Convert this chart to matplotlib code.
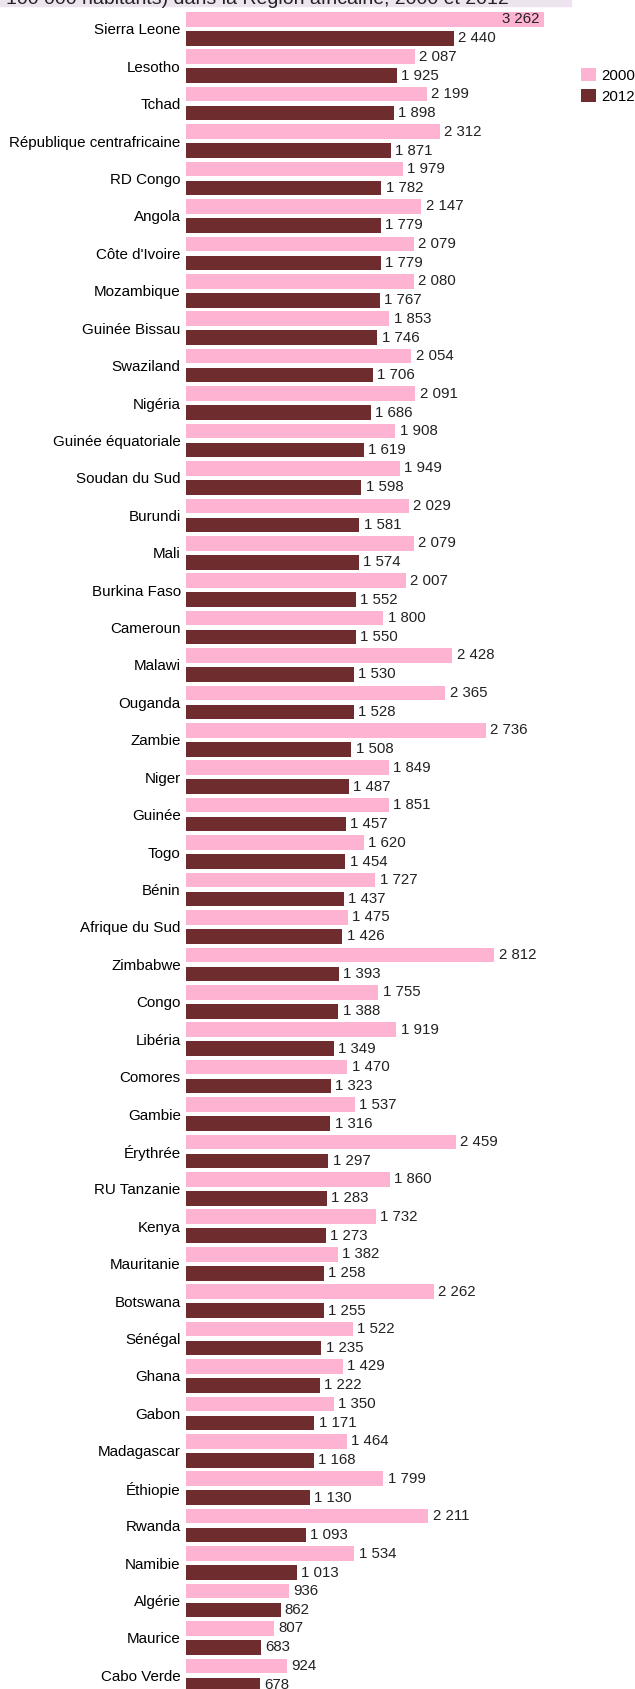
import matplotlib
matplotlib.use("Agg")
import matplotlib.pyplot as plt
from matplotlib.patches import Rectangle
import numpy as np

plt.rcParams['font.family'] = ['Liberation Sans', 'DejaVu Sans']

countries = ["Sierra Leone", "Lesotho", "Tchad", "République centrafricaine", "RD Congo",
             "Angola", "Côte d'Ivoire", "Mozambique", "Guinée Bissau", "Swaziland",
             "Nigéria", "Guinée équatoriale", "Soudan du Sud", "Burundi", "Mali",
             "Burkina Faso", "Cameroun", "Malawi", "Ouganda", "Zambie",
             "Niger", "Guinée", "Togo", "Bénin", "Afrique du Sud",
             "Zimbabwe", "Congo", "Libéria", "Comores", "Gambie",
             "Érythrée", "RU Tanzanie", "Kenya", "Mauritanie", "Botswana",
             "Sénégal", "Ghana", "Gabon", "Madagascar", "Éthiopie",
             "Rwanda", "Namibie", "Algérie", "Maurice", "Cabo Verde"]
v2000 = [3262, 2087, 2199, 2312, 1979, 2147, 2079, 2080, 1853, 2054,
         2091, 1908, 1949, 2029, 2079, 2007, 1800, 2428, 2365, 2736,
         1849, 1851, 1620, 1727, 1475, 2812, 1755, 1919, 1470, 1537,
         2459, 1860, 1732, 1382, 2262, 1522, 1429, 1350, 1464, 1799,
         2211, 1534, 936, 807, 924]
v2012 = [2440, 1925, 1898, 1871, 1782, 1779, 1779, 1767, 1746, 1706,
         1686, 1619, 1598, 1581, 1574, 1552, 1550, 1530, 1528, 1508,
         1487, 1457, 1454, 1437, 1426, 1393, 1388, 1349, 1323, 1316,
         1297, 1283, 1273, 1258, 1255, 1235, 1222, 1171, 1168, 1130,
         1093, 1013, 862, 683, 678]
years = ["2000", "2012"]
title_tail = "100 000 habitants) dans la Région africaine, 2000 et 2012"

pink = "#ffb3d2"
maroon = "#6e2c2e"

W, H = 635, 1689
fig = plt.figure(figsize=(W / 100, H / 100), dpi=100)

# pixel layout
pitch = 37.42
c0 = 28.85
ytop, ybot = -0.55, 44.55
top_px = c0 + ytop * pitch
bot_px = c0 + ybot * pitch
left_px = 186
xmax = 3500
width_px = xmax * 0.10966
ax = fig.add_axes([left_px / W, 1 - bot_px / H, width_px / W, (bot_px - top_px) / H])

y = np.arange(len(countries))
off = 0.254
h = 0.39
b1 = ax.barh(y - off, v2000, height=h, color=pink, label=years[0])
b2 = ax.barh(y + off, v2012, height=h, color=maroon, label=years[1])

ax.set_xlim(0, xmax)
ax.set_ylim(ybot, ytop)
ax.set_yticks(y)
ax.set_yticklabels(countries, fontsize=10.9)
ax.tick_params(axis='y', length=0, pad=3.8)
ax.set_xticks([])
for s in ax.spines.values():
    s.set_visible(False)

def fmt(v):
    return f"{v:,}".replace(",", " ")

vmax = max(v2000)
for vals, yy in ((v2000, y - off), (v2012, y + off)):
    for v, yv in zip(vals, yy):
        if v == vmax:
            ax.annotate(fmt(v), (v, yv), xytext=(-3.1, 0), textcoords='offset points',
                        ha='right', va='center', fontsize=10.8, color='#222222')
        else:
            ax.annotate(fmt(v), (v, yv), xytext=(3.1, 0), textcoords='offset points',
                        ha='left', va='center', fontsize=10.8, color='#222222')

fig.legend(handles=[b1, b2], labels=years, loc='upper left',
           bbox_to_anchor=(580.7 / W, 1 - 68 / H), frameon=False, fontsize=10.8,
           handlelength=1.0, handleheight=1.0, handletextpad=0.35,
           labelspacing=0.4, borderpad=0, borderaxespad=0)

# title band, clipped at top of image
fig.add_artist(Rectangle((0, 1 - 6.3 / H), 570.7 / W, 6.3 / H, transform=fig.transFigure,
                         color="#eee4f0", zorder=0))
fig.text(5.5 / W, 1 - 4.3 / H, title_tail, fontsize=14, va='baseline', ha='left',
         color='#222222')

fig.savefig("out.png", dpi=100)
